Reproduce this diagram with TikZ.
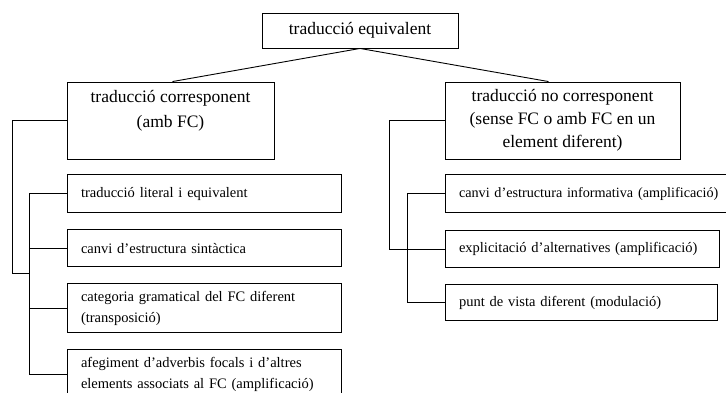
\documentclass[tikz,border=0pt]{standalone}
\usepackage{fontspec}
\setmainfont{Liberation Serif}
\usetikzlibrary{positioning}

\begin{document}
\begin{tikzpicture}[
    x=1pt, y=-1pt,
    line width=0.9pt,
    main/.style = {
        draw,
        align=center,
        inner sep=0pt,
        font=\fontsize{17.5}{23}\selectfont
    },
    leaf/.style = {
        draw,
        align=left,
        inner xsep=14pt,
        inner ysep=0pt,
        text width=246pt,
        font=\fontsize{14.5}{21}\selectfont
    }
]
  \useasboundingbox (0,0) rectangle (726,392);
  \clip (0,0) rectangle (726,392);

  \node[main, minimum width=196pt, minimum height=35pt] (top) at (360,30.5) {traducció equivalent};
  \node[main, minimum width=207pt, minimum height=77pt] (corr) at (170.5,120.5) {traducció corresponent\\[2pt](amb FC)\\~};
  \node[main, minimum width=235pt, minimum height=77pt] (nocorr) at (562.5,120.5) {traducció no corresponent\\(sense FC o amb FC en un\\element diferent)};

  \node[leaf, minimum height=38pt] (c1) [below=15pt of corr.south west, anchor=north west] {traducció literal i equivalent};
  \node[leaf, minimum height=37pt] (c2) [below=16pt of c1.south west, anchor=north west] {canvi d’estructura sintàctica};
  \node[leaf, minimum height=49pt] (c3) [below=16pt of c2.south west, anchor=north west] {categoria gramatical del FC diferent\\(transposició)};
  \node[leaf, minimum height=50pt] (c4) [below=16pt of c3.south west, anchor=north west] {afegiment d’adverbis focals i d’altres\\elements associats al FC (amplificació)};

  \node[leaf, minimum height=38pt, text width=268pt, font=\fontsize{14.2}{21}\selectfont] (nc1) [below=15pt of nocorr.south west, anchor=north west] {canvi d’estructura informativa (amplificació)};
  \node[leaf, minimum height=37pt] (nc2) [below=17pt of nc1.south west, anchor=north west] {explicitació d’alternatives (amplificació)};
  \node[leaf, minimum height=36pt, text width=244pt] (nc3) [below=16pt of nc2.south west, anchor=north west] {punt de vista diferent (modulació)};

  \coordinate (lj) at (30,273);

  \draw (top.south) to ([xshift=2pt]corr.north);
  \draw (top.south) to ([xshift=-14pt]nocorr.north);
  \draw (corr.west) -- ++(-54,0) |- (lj);
  \draw (c1.west) -- ++(-37,0) |- (c4.west);
  \draw (c2.west) -- ++(-37,0);
  \draw (c3.west) -- ++(-37,0);
  \draw (nocorr.west) -- ++(-55,0) |- (nc2.west);
  \draw (nc1.west) -- ++(-37,0) |- (nc3.west);
\end{tikzpicture}
\end{document}
